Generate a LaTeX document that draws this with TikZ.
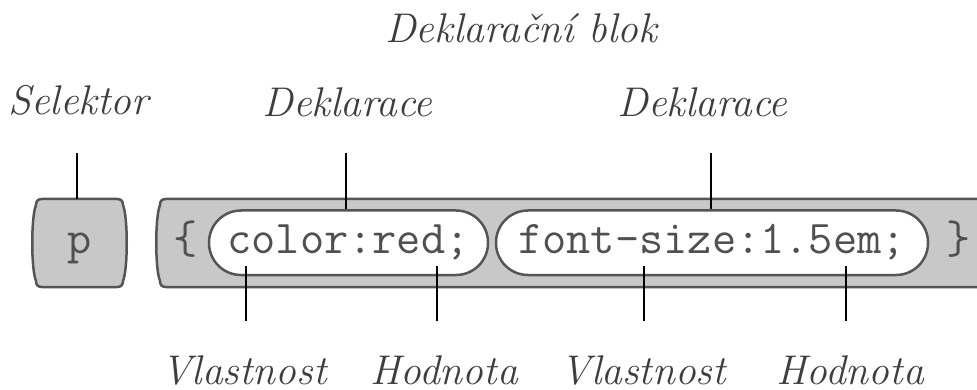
\documentclass[tikz,border=0pt]{standalone}
\usepackage{fontspec}
\definecolor{labelgray}{HTML}{3E3E3E}
\definecolor{codegray}{HTML}{505050}
\definecolor{edgegray}{HTML}{555555}
\definecolor{boxgray}{HTML}{C8C8C8}
\begin{document}
\begin{tikzpicture}[x=1pt,y=-1pt,
  lbl/.style={font=\rmfamily\itshape\fontsize{41.5}{41.5}\selectfont\addfontfeatures{FakeBold=0.8}, text=labelgray, anchor=base, inner sep=0pt},
  code/.style={font=\ttfamily\fontsize{47}{47}\selectfont, text=codegray, anchor=base, inner sep=0pt},
  pill/.style={draw=edgegray, line width=2.5pt, fill=white, rounded corners=32pt, inner sep=0pt,
    text height=28pt, text depth=7pt, minimum height=64.5pt,
    font=\ttfamily\fontsize{47}{47}\selectfont, text=codegray},
  conn/.style={draw=black, line width=2.5pt},
  boxshape/.style={draw=edgegray, line width=2.5pt, fill=boxgray}]
\useasboundingbox (0,0) rectangle (977,390);
\clip (0,0) rectangle (977,390);

% selector box
\draw[boxshape] (42,199) -- (117,199) .. controls (121,199) and (123,201) .. (123,205)
  .. controls (128,217) and (128,269) .. (123,281)
  .. controls (123,285) and (121,287) .. (117,287) -- (42,287)
  .. controls (38,287) and (36,285) .. (36,281)
  .. controls (31,269) and (31,217) .. (36,205)
  .. controls (36,201) and (38,199) .. (42,199) -- cycle;
\node[inner sep=0pt, minimum width=87pt, minimum height=88pt] (pbox) at (79.5,243) {};
\node[code] (ptext) at (79.5,253) {p};

% declaration block
\draw[boxshape] (1000,199) -- (166,199) .. controls (162,199) and (160,201) .. (160,205)
  .. controls (155,217) and (155,269) .. (160,281)
  .. controls (160,285) and (162,287) .. (166,287) -- (1000,287);
\node[code] (lbrace) at (186,253) {\{};
\node[code] (rbrace) at (959,253) {\}};

\node[pill, minimum width=279pt] (pill1) at (348.5,242.75) {color:red;};
\node[pill, minimum width=432pt] (pill2) at (712,242.75) {font-size:1.5em;};

% labels
\node[lbl] (blok) at (521,43) {Deklarační blok};
\node[lbl] (sel) at (78.5,115) {Selektor};
\node[lbl] (dek1) at (347.5,117) {Deklarace};
\node[lbl] (dek2) at (702.5,117) {Deklarace};
\node[lbl] (vl1) at (244,384) {Vlastnost};
\node[lbl] (ho1) at (444,384) {Hodnota};
\node[lbl] (vl2) at (643.5,384) {Vlastnost};
\node[lbl] (ho2) at (850,384) {Hodnota};

% connectors
\coordinate (s1) at (77,153);
\coordinate (d1) at (346,153);
\coordinate (d2) at (711,153);
\draw[conn] (s1) -- (s1 |- pbox.north);
\draw[conn] (d1) -- (d1 |- pill1.north);
\draw[conn] (d2) -- (d2 |- pill2.north);

\coordinate (v1a) at (246,266); \coordinate (v1b) at (246,321);
\coordinate (h1a) at (437,266); \coordinate (h1b) at (437,321);
\coordinate (v2a) at (644,266); \coordinate (v2b) at (644,321);
\coordinate (h2a) at (846,266); \coordinate (h2b) at (846,321);
\draw[conn] (v1a) -- (v1b);
\draw[conn] (h1a) -- (h1b);
\draw[conn] (v2a) -- (v2b);
\draw[conn] (h2a) -- (h2b);
\end{tikzpicture}
\end{document}
